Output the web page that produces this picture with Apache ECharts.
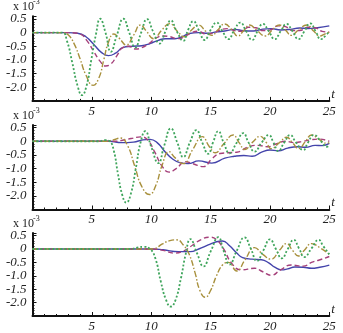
<!DOCTYPE html>
<html><head><meta charset="utf-8">
<script src="https://cdn.jsdelivr.net/npm/echarts@6/dist/echarts.min.js"></script>
<style>html,body{margin:0;padding:0;background:#fff}#c{width:343px;height:333px}</style>
</head><body><div id="c"></div>
<script>
// ---- data: [t, value (x10^-3)] ----
const xTickLabels = [5, 10, 15, 20, 25];
const yTickLabels = [0.5, 0, -0.5, -1.0, -1.5, -2.0];

const blue1 = [[0,0],[3,0],[3.8,-0.02],[4.5,-0.15],[5.2,-0.45],[5.8,-0.72],[6.4,-0.84],[7.0,-0.75],[7.6,-0.55],[8.4,-0.5],[9.2,-0.48],[9.9,-0.4],[10.6,-0.28],[11.2,-0.22],[12.0,-0.22],[12.6,-0.15],[13.2,-0.03],[14,0],[14.8,-0.02],[15.5,0.03],[16.2,0.06],[17,0.12],[17.8,0.07],[18.6,0.06],[19.4,0.13],[20.1,0.15],[20.9,0.1],[21.7,0.12],[22.5,0.17],[23.2,0.15],[24,0.18],[25,0.25]];
const magenta1 = [[0,0],[3.2,0],[4,-0.05],[4.6,-0.3],[5.2,-0.72],[5.7,-1.05],[6.15,-1.22],[6.6,-1.15],[7.1,-0.85],[7.6,-0.55],[8.1,-0.5],[8.7,-0.6],[9.2,-0.55],[9.8,-0.4],[10.4,-0.2],[11,-0.12],[11.6,-0.15],[12.2,-0.22],[12.8,-0.15],[13.4,0.0],[14,0.05],[14.6,-0.05],[15.2,-0.02],[15.8,0.1],[16.4,0.15],[17,0.08],[17.6,0.05],[18.2,0.2],[18.8,0.18],[19.4,0.08],[20,0.1],[20.7,0.25],[21.3,0.22],[21.9,0.08],[22.5,0.08],[23.2,0.2],[23.8,0.18],[24.4,0.05],[25,0.02]];
const olive1 = [[0,0],[2.5,0],[3.0,-0.08],[3.5,-0.4],[4.0,-0.95],[4.5,-1.55],[5.1,-1.93],[5.6,-1.65],[6.0,-1.0],[6.4,-0.35],[6.85,-0.05],[7.3,-0.2],[7.9,-0.45],[8.5,-0.1],[9.1,0.28],[9.6,0.05],[10.2,-0.22],[10.9,0.1],[11.55,0.33],[12.2,0.05],[12.8,-0.15],[13.4,0.1],[14.0,0.28],[14.6,0.05],[15.1,-0.1],[15.6,0.1],[16.2,0.32],[16.8,0.1],[17.3,-0.12],[17.8,0.08],[18.3,0.28],[18.9,0.08],[19.6,-0.12],[20.2,0.1],[20.8,0.28],[21.3,0.1],[21.8,-0.1],[22.4,0.1],[23.1,0.28],[23.7,0.05],[24.2,-0.12],[24.6,-0.05],[25,0.02]];
const green1 = [[0,0],[2.5,0],[2.9,-0.3],[3.35,-1.1],[3.8,-1.95],[4.17,-2.29],[4.55,-1.95],[4.95,-1.0],[5.35,-0.05],[5.7,0.51],[6.15,0.0],[6.6,-0.7],[7.1,-0.1],[7.65,0.51],[8.15,0.0],[8.65,-0.55],[9.15,0.0],[9.65,0.5],[10.15,0.05],[10.7,-0.4],[11.2,0.05],[11.65,0.45],[12.15,0.05],[12.7,-0.3],[13.1,0.1],[13.55,0.42],[14.0,0.1],[14.5,-0.27],[15.0,0.1],[15.5,0.37],[16.0,0.05],[16.5,-0.24],[17.0,0.1],[17.5,0.37],[18.0,0.05],[18.5,-0.27],[18.95,0.05],[19.4,0.32],[19.9,0.05],[20.4,-0.24],[20.9,0.05],[21.4,0.32],[21.9,0.05],[22.4,-0.24],[22.9,0.05],[23.4,0.34],[23.85,0.05],[24.3,-0.24],[24.7,-0.1],[25,0.05]];

const blue2 = [[0,0],[6.5,0],[7.5,-0.05],[8.5,-0.03],[9.3,0.05],[9.9,0.07],[10.5,-0.05],[11.2,-0.4],[11.8,-0.65],[12.4,-0.78],[13.1,-0.82],[14.0,-0.72],[15.1,-0.8],[16.2,-0.62],[17.0,-0.55],[17.8,-0.52],[18.5,-0.55],[19.3,-0.4],[20.0,-0.32],[20.7,-0.35],[21.5,-0.25],[22.3,-0.2],[23.0,-0.22],[23.8,-0.15],[24.4,-0.16],[25,-0.08]];
const magenta2 = [[0,0],[6.8,0],[7.5,0.03],[8.3,0.1],[9.1,0.16],[9.7,0.05],[10.3,-0.4],[10.9,-0.9],[11.5,-1.13],[12.1,-1.0],[12.9,-0.75],[13.5,-0.82],[14.4,-0.93],[15.1,-0.65],[15.8,-0.45],[16.5,-0.42],[17.2,-0.4],[18.2,-0.2],[19.0,-0.15],[19.8,-0.2],[20.5,-0.1],[21.3,0.0],[22.0,-0.05],[22.8,0.0],[23.4,0.05],[24.1,0.08],[25,0.0]];
const olive2 = [[0,0],[6.2,0],[6.8,0.05],[7.4,0.12],[8.0,-0.15],[8.6,-0.9],[9.2,-1.65],[9.85,-1.95],[10.4,-1.6],[10.9,-0.9],[11.5,-0.38],[12.0,-0.6],[12.7,-0.82],[13.5,-0.3],[14.3,0.17],[14.9,-0.2],[15.4,-0.42],[16.1,-0.1],[16.9,0.23],[17.4,-0.05],[17.9,-0.3],[18.5,-0.05],[19.2,0.18],[19.7,-0.05],[20.1,-0.27],[20.8,-0.05],[21.4,0.15],[21.9,-0.05],[22.4,-0.27],[23.0,0.0],[23.5,0.23],[24.2,0.05],[24.8,-0.07],[25,-0.05]];
const green2 = [[0,0],[5.6,0],[6.1,0.04],[6.5,0],[6.85,-0.35],[7.2,-1.2],[7.55,-1.95],[7.9,-2.25],[8.3,-1.9],[8.7,-1.0],[9.1,-0.05],[9.5,0.37],[10.0,-0.2],[10.6,-0.8],[11.1,-0.15],[11.65,0.47],[12.2,-0.05],[12.7,-0.58],[13.25,-0.05],[13.8,0.41],[14.3,-0.05],[14.8,-0.46],[15.2,-0.05],[15.65,0.37],[16.1,-0.05],[16.6,-0.44],[17.2,-0.05],[17.75,0.3],[18.2,-0.05],[18.7,-0.38],[19.3,-0.05],[19.9,0.23],[20.3,-0.05],[20.7,-0.36],[21.2,-0.05],[21.7,0.23],[22.2,-0.05],[22.8,-0.32],[23.2,-0.05],[23.7,0.23],[24.3,0.0],[24.8,-0.2],[25,-0.15]];

const blue3 = [[0,0],[10,0],[11,-0.03],[12.3,-0.1],[13.3,-0.1],[14.0,0.0],[14.8,0.15],[15.5,0.27],[16.0,0.3],[16.6,0.12],[17.2,-0.15],[17.7,-0.32],[18.5,-0.38],[19.3,-0.4],[19.9,-0.52],[20.4,-0.68],[21.0,-0.78],[21.5,-0.74],[22.1,-0.67],[22.8,-0.68],[23.5,-0.72],[24.2,-0.68],[25,-0.6]];
const magenta3 = [[0,0],[10,0],[11,-0.05],[11.9,-0.15],[12.7,-0.08],[13.5,0.15],[14.2,0.35],[14.9,0.44],[15.5,0.35],[16.1,0.0],[16.8,-0.55],[17.6,-0.78],[18.7,-0.72],[19.4,-0.85],[20.1,-0.98],[20.9,-0.78],[21.8,-0.6],[22.8,-0.64],[23.5,-0.5],[24.1,-0.42],[25,-0.28]];
const olive3 = [[0,0],[9.8,0],[10.3,0.02],[10.9,0.18],[11.5,0.3],[12.15,0.34],[12.7,0.15],[13.2,-0.2],[13.7,-0.9],[14.1,-1.55],[14.55,-1.8],[15.0,-1.55],[15.5,-1.0],[16.0,-0.6],[16.5,-0.5],[17.2,-0.82],[17.9,-0.4],[18.7,0.05],[19.4,-0.2],[20.1,-0.38],[20.8,-0.05],[21.4,0.2],[21.9,-0.05],[22.4,-0.26],[22.9,-0.05],[23.5,0.2],[24.2,0.05],[25,-0.2]];
const green3 = [[0,0],[8.3,0],[8.9,0.06],[9.35,0.08],[9.9,0],[10.35,-0.35],[10.8,-1.2],[11.25,-1.9],[11.65,-2.15],[12.05,-1.9],[12.5,-1.1],[12.9,-0.2],[13.3,0.37],[13.85,-0.15],[14.4,-0.65],[15.0,-0.1],[15.65,0.44],[16.1,-0.07],[16.6,-0.58],[17.2,-0.07],[17.85,0.43],[18.4,0.0],[18.9,-0.45],[19.45,-0.05],[20.0,0.36],[20.5,0.0],[21.0,-0.35],[21.5,0.0],[22.0,0.34],[22.45,0.02],[22.9,-0.3],[23.5,0.02],[24.1,0.34],[24.5,0.1],[25,-0.2]];

const panels = [
  [blue1, magenta1, olive1, green1],
  [blue2, magenta2, olive2, green2],
  [blue3, magenta3, olive3, green3]
];

// ---- styling ----
const gridTops = [16.3, 124.9, 232.9];
const gridH = 84.6;
const styles = [
  {color:'#4444ab', type:'solid', width:1.4},
  {color:'#a5407a', type:[5,3], width:1.4},
  {color:'#a8903c', type:[6,2,1.5,2], width:1.4},
  {color:'#3fa55c', type:[2,2], width:1.8}
];
const FONT = '"Liberation Serif", "Times New Roman", Times, serif';

const chart = echarts.init(document.getElementById('c'), null, {renderer:'canvas'});
const grids = [], xAxes = [], yAxes = [], series = [], graphics = [];
panels.forEach((p, i) => {
  grids.push({left:32.5, right:13.7, top:gridTops[i], height:gridH});
  xAxes.push({
    type:'value', gridIndex:i, min:0, max:25, interval:5,
    axisLine:{onZero:false, lineStyle:{color:'#111', width:2}},
    axisTick:{inside:true, length:4, lineStyle:{color:'#111', width:1}},
    minorTick:{show:true, splitNumber:5, length:2, lineStyle:{color:'#111', width:1}},
    splitLine:{show:false},
    axisLabel:{margin:4, fontFamily:FONT, fontStyle:'italic', fontSize:13, color:'#222',
      formatter: v => xTickLabels.indexOf(v) >= 0 ? String(v) : ''},
    name:'t', nameLocation:'end', nameGap:2,
    nameTextStyle:{fontFamily:FONT, fontStyle:'italic', fontSize:13, color:'#222', verticalAlign:'bottom'}
  });
  yAxes.push({
    type:'value', gridIndex:i, min:-2.5, max:0.6, interval:0.5,
    axisLine:{show:true, onZero:false, lineStyle:{color:'#111', width:2}},
    axisTick:{show:true, inside:true, length:4, lineStyle:{color:'#111', width:1}},
    minorTick:{show:true, splitNumber:5, length:2, lineStyle:{color:'#111', width:1}},
    splitLine:{show:false},
    axisLabel:{margin:6, fontFamily:FONT, fontStyle:'italic', fontSize:13, color:'#222',
      formatter: v => {
        const r = Math.round(v*10)/10;
        if (yTickLabels.indexOf(r) < 0 || Math.abs(v - r) > 1e-6) return '';
        return r === 0 ? '0' : r.toFixed(1);
      }}
  });
  p.forEach((d, k) => {
    series.push({
      type:'line', xAxisIndex:i, yAxisIndex:i, data:d, showSymbol:false, smooth:0.5,
      lineStyle:styles[k], z:2+k, silent:true
    });
  });
  graphics.push({
    type:'text', left:13, top:gridTops[i]-15,
    style:{text:'x 10', fontFamily:FONT, fontSize:12, fill:'#222'}
  });
  graphics.push({
    type:'text', left:33, top:gridTops[i]-18,
    style:{text:'-3', fontFamily:FONT, fontSize:8, fill:'#222'}
  });
});

chart.setOption({
  animation:false,
  backgroundColor:'#fff',
  grid:grids, xAxis:xAxes, yAxis:yAxes, series:series, graphic:graphics
});
</script></body></html>
